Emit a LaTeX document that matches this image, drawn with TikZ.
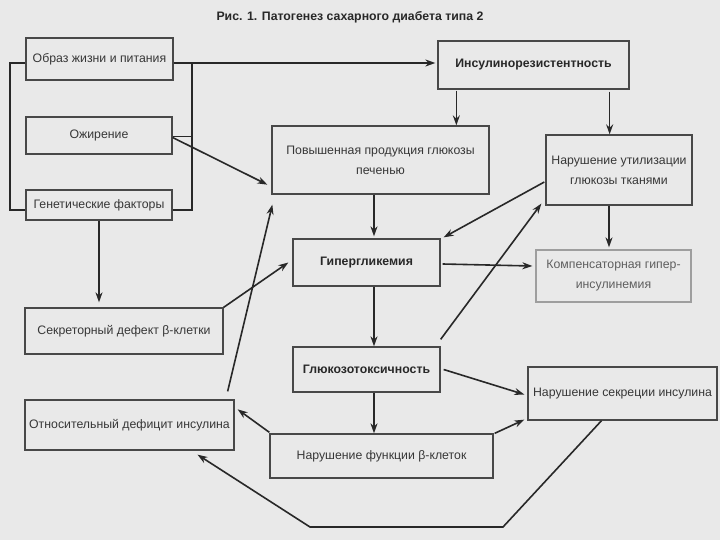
\documentclass[tikz,border=0pt]{standalone}
\usepackage{fontspec}
\setmainfont{Liberation Sans}
\usetikzlibrary{arrows.meta,calc}
\definecolor{bg}{RGB}{233,233,233}
\definecolor{ink}{RGB}{40,40,40}
\definecolor{txt}{RGB}{55,55,55}
\begin{document}
\begin{tikzpicture}[x=1bp,y=-1bp,
  box/.style={draw=ink!85, line width=1.3bp, fill=bg, text=txt, align=center, inner sep=0pt,
     font=\fontsize{12.3bp}{20bp}\selectfont},
  boldbox/.style={box, font=\fontsize{12.3bp}{14bp}\selectfont\bfseries, text=ink},
  lightbox/.style={box, draw=ink!45, text=txt!80},
  arr/.style={draw=ink, line width=1.6bp, -{Stealth[length=10bp,width=7bp]}},
  ln/.style={draw=ink, line width=1.4bp}]
\fill[bg] (0,0) rectangle (720,540);
\useasboundingbox (0,0) rectangle (720,540);

\node[font=\fontsize{12.3bp}{14bp}\selectfont\bfseries, text=ink] (title) at (350,17) {Рис. 1. Патогенез сахарного диабета типа 2};

\node[box, minimum width=147bp, minimum height=42bp] (obraz) at (99.5,59) {Образ жизни и питания};
\node[box, minimum width=146bp, minimum height=37bp] (ozhir) at (99,135.5) {Ожирение};
\node[box, minimum width=146bp, minimum height=30bp] (genet) at (99,205) {Генетические факторы};
\node[boldbox, minimum width=191bp, minimum height=48bp] (insres) at (533.5,65) {Инсулинорезистентность};
\node[box, minimum width=217bp, minimum height=68bp] (povysh) at (380.5,160) {Повышенная продукция глюкозы\\печенью};
\node[box, minimum width=146bp, minimum height=70bp] (narutil) at (619,170) {Нарушение утилизации\\глюкозы тканями};
\node[boldbox, minimum width=147bp, minimum height=47bp] (giper) at (366.5,262.5) {Гипергликемия};
\node[lightbox, minimum width=155bp, minimum height=52bp] (komp) at (613.5,276) {Компенсаторная гипер-\\инсулинемия};
\node[boldbox, minimum width=147bp, minimum height=45bp] (gluko) at (366.5,369.5) {Глюкозотоксичность};
\node[box, minimum width=189bp, minimum height=53bp] (narsekr) at (622.5,393.5) {Нарушение секреции инсулина};
\node[box, minimum width=223bp, minimum height=44bp] (narfunk) at (381.5,456) {Нарушение функции β-клеток};
\node[box, minimum width=198bp, minimum height=46bp] (sekret) at (124,331) {Секреторный дефект β-клетки};
\node[box, minimum width=209bp, minimum height=50bp] (otnos) at (129.5,425) {Относительный дефицит инсулина};

% left bracket
\draw[ln] ($(obraz.west)+(0,4)$) -- (10,63) -- (10,210) -- ($(genet.west)+(0,5)$);
% right bracket
\coordinate (rb1) at (192,63);
\coordinate (rb2) at (192,210);
\draw[ln] (rb1) -- (rb2) -- ($(genet.east)+(0,5)$);
\draw[ln] ($(ozhir.east)+(0,1)$) -- (192,136.5);
% main arrow
\draw[arr, line width=2.2bp] ($(obraz.east)+(0,4)$) -- ($(insres.west)+(-2,-2)$);
% ozhirenie -> povysh
\draw[arr] ($(ozhir.east)+(0,2)$) -- ($(povysh.south west)+(-4,-10)$);
% insres down arrows
\draw[arr] ($(insres.south west)+(19,1)$) coordinate (a1) -- (a1 |- povysh.north);
\draw[arr] ($(insres.south east)+(-20,2)$) coordinate (a2) -- (a2 |- narutil.north);
% vertical chain
\draw[arr] ($(povysh.south)+(-6.5,0)$) coordinate (a3) -- ($(a3 |- giper.north)+(0,-2)$);
\draw[arr] ($(giper.south)+(7.5,0)$) coordinate (a4) -- (a4 |- gluko.north);
\draw[arr] ($(gluko.south)+(7.5,0)$) coordinate (a5) -- (a5 |- narfunk.north);
\draw[arr] ($(narutil.south)+(-10,0)$) coordinate (a6) -- ($(a6 |- komp.north)+(0,-2)$);
% narutil -> giper
\draw[arr] ($(narutil.west)+(-1,12)$) -- ($(giper.north east)+(3,-1)$);
% gluko -> narutil
\draw[arr] ($(gluko.north east)+(0,-7)$) -- ($(narutil.south west)+(-4,-2)$);
% giper -> komp
\draw[arr] ($(giper.east)+(2,1.5)$) -- ($(komp.west)+(-3,-10)$);
% gluko -> narsekr
\draw[arr] ($(gluko.east)+(3,0)$) -- ($(narsekr.west)+(-3,1)$);
% narfunk -> narsekr
\draw[arr] ($(narfunk.north east)+(1,0)$) -- ($(narsekr.south west)+(-3,-1)$);
% narfunk -> otnos
\draw[arr] ($(narfunk.north west)+(0,-1)$) -- ($(otnos.north east)+(3,10)$);
% otnos -> povysh
\draw[arr] ($(otnos.north east)+(-7,-8)$) -- ($(povysh.south west)+(1,10)$);
% sekret -> giper
\draw[arr] (sekret.north east) -- ($(giper.west)+(-4,0)$);
% genet -> sekret
\draw[arr] (genet.south) -- ($(genet.south |- sekret.north)+(0,-5)$);
% bottom loop
\draw[arr] ($(narsekr.south)+(-21,0)$) -- (503,527) -- (310,527) -- ($(otnos.south)+(68,4)$);
\end{tikzpicture}
\end{document}
